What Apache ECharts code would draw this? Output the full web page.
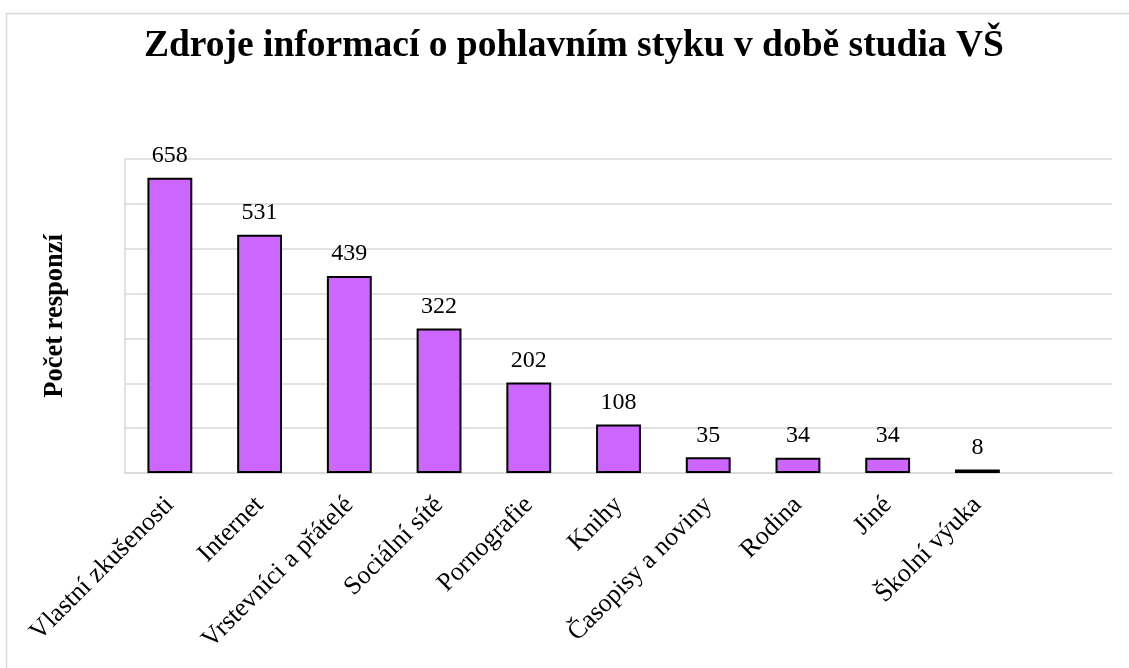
<!DOCTYPE html>
<html><head><meta charset="utf-8">
<script src="https://cdn.jsdelivr.net/npm/echarts@6/dist/echarts.min.js"></script>
<style>html,body{margin:0;padding:0;background:#fff}#c{width:1129px;height:668px}</style>
</head><body><div id="c"></div>
<script>
const titleText = 'Zdroje informací o pohlavním styku v době studia VŠ';
const yAxisName = 'Počet responzí';
const categories = ['Vlastní zkušenosti','Internet','Vrstevníci a přátelé','Sociální sítě','Pornografie','Knihy','Časopisy a noviny','Rodina','Jiné','Školní výuka',''];
const values = [658,531,439,322,202,108,35,34,34,8,null];

const chart = echarts.init(document.getElementById('c'), null, {renderer:'canvas'});
const serif = '"Liberation Serif","Times New Roman",serif';
chart.setOption({
  animation:false,
  backgroundColor:'#fff',
  graphic:[{type:'rect',shape:{x:6.5,y:13.5,width:1200,height:700},style:{fill:'none',stroke:'#d9d9d9',lineWidth:1.5},silent:true}],
  title:{text:titleText,left:139,top:22,textStyle:{fontFamily:serif,fontWeight:'bold',fontSize:37.5,color:'#000'}},
  grid:{left:125,right:17,top:159,bottom:195,containLabel:false},
  xAxis:{type:'category',data:categories,
    axisLine:{show:true,lineStyle:{color:'#d9d9d9',width:1.5}},
    axisTick:{show:false},
    axisLabel:{interval:0,rotate:45,margin:28,fontFamily:serif,fontSize:26,color:'#000'}},
  yAxis:{type:'value',min:0,max:700,interval:100,
    name:yAxisName,nameLocation:'middle',nameGap:56,nameRotate:90,
    nameTextStyle:{fontFamily:serif,fontWeight:'bold',fontSize:26.5,color:'#000'},
    axisLabel:{show:false},axisTick:{show:false},
    axisLine:{show:true,lineStyle:{color:'#d9d9d9',width:1.5}},
    splitLine:{show:true,lineStyle:{color:'#d9d9d9',width:1.5}}},
  series:[{type:'bar',data:values,barWidth:'50%',
    itemStyle:{color:'#cc66ff',borderColor:'#000',borderWidth:2},
    label:{show:true,position:'top',distance:10,fontFamily:serif,fontSize:24,color:'#000'}}]
});
</script></body></html>
